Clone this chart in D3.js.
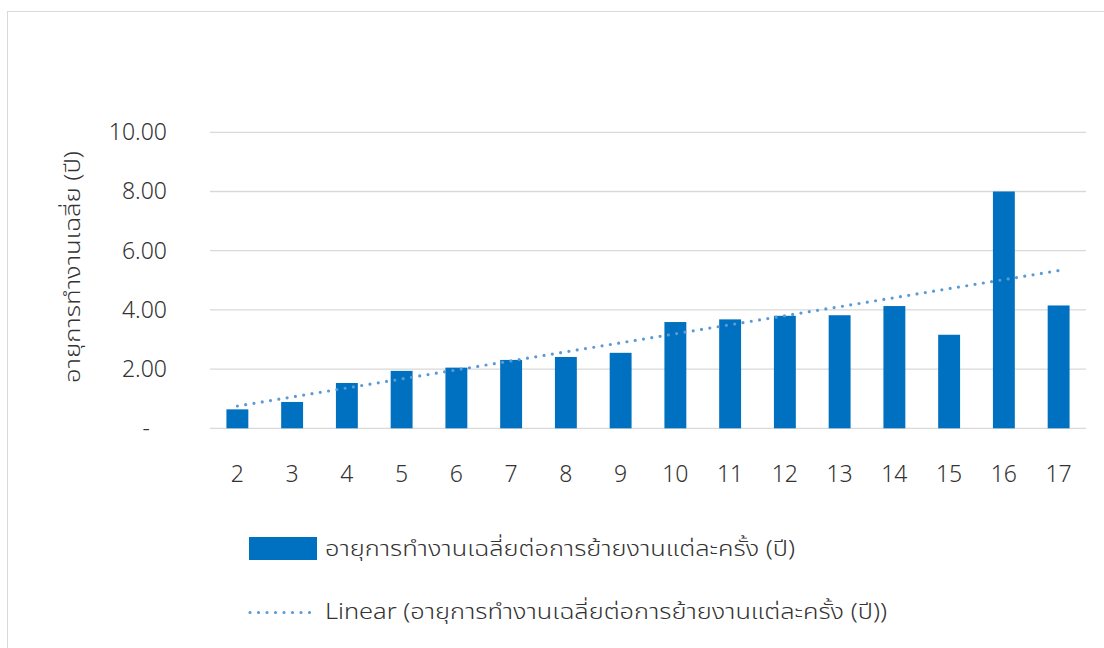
<!DOCTYPE html>
<html>
<head>
<meta charset="utf-8">
<script src="https://cdn.jsdelivr.net/npm/d3@7"></script>
<style>
  body { margin: 0; background: #fff; }
  svg text { font-family: "Noto Sans Thai", "Noto Sans", "DejaVu Sans", sans-serif; fill: #333; font-weight: 300; }
</style>
</head>
<body>
<svg id="chart" width="1104" height="648"></svg>
<script>
// data
const categories = ["2","3","4","5","6","7","8","9","10","11","12","13","14","15","16","17"];
const values = [0.64, 0.89, 1.53, 1.94, 2.05, 2.31, 2.41, 2.55, 3.59, 3.68, 3.80, 3.82, 4.13, 3.16, 8.00, 4.15];
const yTicks = [0, 2, 4, 6, 8, 10];
const seriesName = "อายุการทำงานเฉลี่ยต่อการย้ายงานแต่ละครั้ง (ปี)";
const yTitle = "อายุการทำงานเฉลี่ย (ปี)";

const svg = d3.select("#chart");

// outer chart frame
svg.append("rect")
    .attr("x", 7.5).attr("y", 11.5)
    .attr("width", 1200).attr("height", 700)
    .attr("fill", "none").attr("stroke", "#d9d9d9").attr("stroke-width", 1);

let x = d3.scaleBand().domain(categories).range([210, 1086]).paddingInner(0.6).paddingOuter(0.3);
let y = d3.scaleLinear().domain([0, 10]).range([428.3, 132.3]);

// gridlines
svg.append("g")
    .selectAll("line")
    .data(yTicks)
    .enter().append("line")
    .attr("x1", 210).attr("x2", 1086)
    .attr("y1", d => y(d)).attr("y2", d => y(d))
    .attr("stroke", "#d9d9d9").attr("stroke-width", 1.3);

// y tick labels
const yAxis = svg.append("g")
    .attr("transform", "translate(167,0)")
    .call(d3.axisLeft(y).tickValues(yTicks).tickSize(0).tickPadding(0)
        .tickFormat(d => d === 0 ? "-" : d3.format(".2f")(d)));
yAxis.select(".domain").remove();
yAxis.selectAll("text")
    .attr("font-size", 23)
    .attr("fill", "#333")
    .attr("dx", d => d === 0 ? -17 : 0);

// x tick labels
const xAxis = svg.append("g")
    .attr("transform", "translate(0,474)")
    .call(d3.axisBottom(x).tickSize(0).tickPadding(0));
xAxis.select(".domain").remove();
xAxis.selectAll("text")
    .attr("font-size", 23)
    .attr("fill", "#333")
    .attr("dy", "0.35em");

// bars
svg.append("g")
    .selectAll("rect")
    .data(values)
    .enter().append("rect")
    .attr("x", (d, i) => x(categories[i]))
    .attr("y", d => y(d))
    .attr("width", x.bandwidth())
    .attr("height", d => y(0) - y(d))
    .attr("fill", "#0070c0");

// linear trendline (least squares on category index, like the spreadsheet does)
const idx = values.map((d, i) => i + 1);
const mx = d3.mean(idx), my = d3.mean(values);
const slope = d3.sum(idx, (xi, i) => (xi - mx) * (values[i] - my)) / d3.sum(idx, xi => (xi - mx) * (xi - mx));
const intercept = my - slope * mx;
const cx = c => x(c) + x.bandwidth() / 2;
svg.append("line")
    .attr("x1", cx(categories[0]))
    .attr("y1", y(intercept + slope * 1))
    .attr("x2", cx(categories[categories.length - 1]))
    .attr("y2", y(intercept + slope * categories.length))
    .attr("stroke", "#5b9bd5")
    .attr("stroke-width", 3.2)
    .attr("stroke-linecap", "round")
    .attr("stroke-dasharray", "0 8.4");

// y axis title
svg.append("text")
    .attr("transform", "translate(80,267) rotate(-90)")
    .attr("text-anchor", "middle")
    .attr("font-size", 22)
    .attr("textLength", 232)
    .attr("lengthAdjust", "spacingAndGlyphs")
    .text(yTitle);

// legend
const legend = svg.append("g");
legend.append("rect")
    .attr("x", 249).attr("y", 537).attr("width", 68).attr("height", 23)
    .attr("fill", "#0070c0");
legend.append("text")
    .attr("x", 325).attr("y", 548.5).attr("dy", "0.35em")
    .attr("font-size", 22)
    .attr("textLength", 470)
    .attr("lengthAdjust", "spacingAndGlyphs")
    .text(seriesName);
legend.append("line")
    .attr("x1", 250).attr("x2", 316)
    .attr("y1", 612.5).attr("y2", 612.5)
    .attr("stroke", "#5b9bd5").attr("stroke-width", 3.2)
    .attr("stroke-linecap", "round").attr("stroke-dasharray", "0 8.5");
legend.append("text")
    .attr("x", 325).attr("y", 611).attr("dy", "0.35em")
    .attr("font-size", 22)
    .attr("textLength", 562)
    .attr("lengthAdjust", "spacingAndGlyphs")
    .text("Linear (" + seriesName + ")");
</script>
</body>
</html>
